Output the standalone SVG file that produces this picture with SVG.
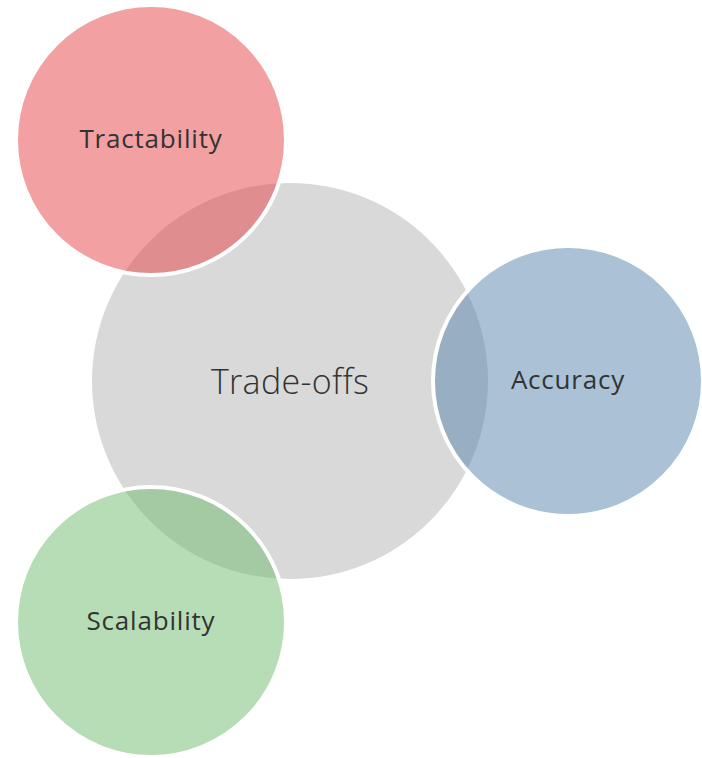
<svg xmlns="http://www.w3.org/2000/svg" width="702" height="758" viewBox="0 0 702 758">
<style>
.sat{stroke:#fff;stroke-width:4;fill-opacity:0.5}
.lbl{font-family:"Open Sans","Noto Sans",sans-serif;font-size:26px;letter-spacing:0.8px;fill:#333;text-anchor:middle}
.main{font-family:"Open Sans","Noto Sans",sans-serif;font-size:34px;font-weight:300;letter-spacing:0.3px;fill:#333;text-anchor:middle}
</style>
<rect width="702" height="758" fill="#fff"/>
<g id="connectors"></g>
<g id="center">
<circle cx="290" cy="381" r="198" fill="#d9d9d9"/>
<text class="main" x="290" y="394">Trade-offs</text>
</g>
<g id="tractability">
<circle class="sat" cx="151" cy="140" r="135" fill="#e54145"/>
<text class="lbl" x="151" y="148">Tractability</text>
</g>
<g id="accuracy">
<circle class="sat" cx="568" cy="381" r="135" fill="#5583ad"/>
<text class="lbl" x="568" y="389">Accuracy</text>
</g>
<g id="scalability">
<circle class="sat" cx="151" cy="622" r="135" fill="#6dbb6d"/>
<text class="lbl" x="151" y="630">Scalability</text>
</g>
</svg>
